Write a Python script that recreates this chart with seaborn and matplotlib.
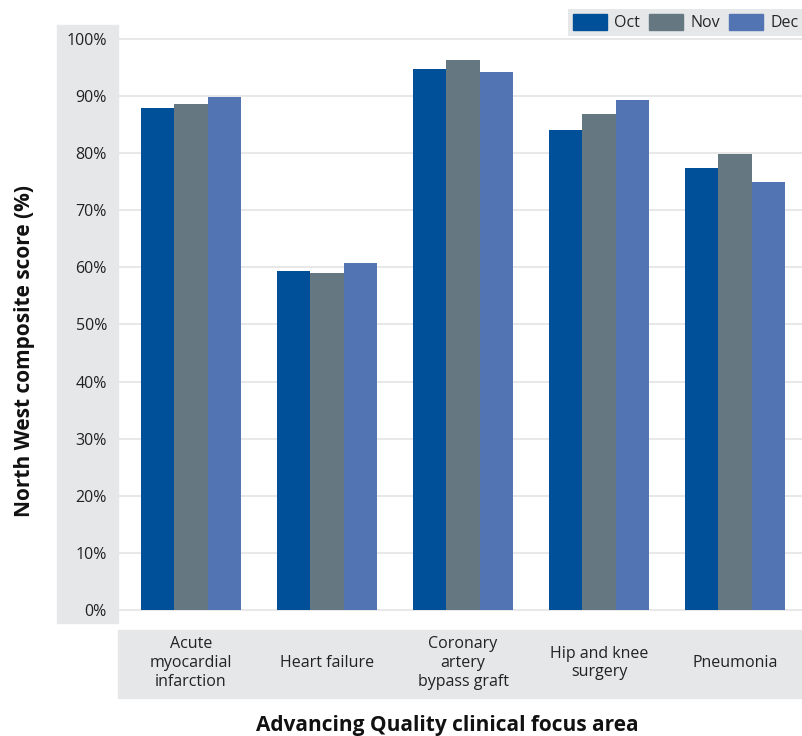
import pandas as pd
import matplotlib
matplotlib.use("Agg")
import matplotlib.pyplot as plt
from matplotlib.patches import Rectangle
import seaborn as sns

# --- DATA ---
areas = ["Acute\nmyocardial\ninfarction", "Heart failure", "Coronary\nartery\nbypass graft",
         "Hip and knee\nsurgery", "Pneumonia"]
months = ["Oct", "Nov", "Dec"]
oct_vals = [87.9, 59.4, 94.7, 84.1, 77.4]
nov_vals = [88.6, 59.0, 96.3, 86.9, 79.9]
dec_vals = [89.8, 60.8, 94.2, 89.3, 75.0]
yticks = [0, 10, 20, 30, 40, 50, 60, 70, 80, 90, 100]

df = pd.DataFrame({
    "area": areas * 3,
    "month": ["Oct"] * 5 + ["Nov"] * 5 + ["Dec"] * 5,
    "score": oct_vals + nov_vals + dec_vals,
})
palette = {"Oct": "#005099", "Nov": "#657882", "Dec": "#5274b3"}
panel = "#e6e7e8"

sns.set_style("white")
plt.rcParams["font.family"] = ["Open Sans", "DejaVu Sans"]

W, H = 803, 736
fig = plt.figure(figsize=(W / 100, H / 100), dpi=100)

def fx(px):
    return px / W

def fy(py):
    return 1 - py / H

# grey label panels (behind the axes)
fig.patches.append(Rectangle((fx(57), fy(623)), fx(118) - fx(57), fy(25) - fy(623),
                             transform=fig.transFigure, color=panel, zorder=-5))
fig.patches.append(Rectangle((fx(118), fy(698)), fx(803) - fx(118), fy(630) - fy(698),
                             transform=fig.transFigure, color=panel, zorder=-5))

ax = fig.add_axes([fx(118), fy(623), fx(803) - fx(118), fy(25) - fy(623)])
ax.set_facecolor("none")

sns.barplot(data=df, x="area", y="score", hue="month", hue_order=months,
            palette=palette, width=0.74, saturation=1, linewidth=0,
            ax=ax, legend=False)

ax.set_ylim(-2.28, 102.45)
ax.set_xlim(-0.537, 4.5)
ax.set_yticks(yticks)
ax.set_yticklabels([f"{v}%" for v in yticks])
ax.yaxis.grid(True, color="#e8e8e8", linewidth=1.5)
ax.set_axisbelow(True)
sns.despine(ax=ax, left=True, bottom=True)
ax.tick_params(axis="y", length=0, pad=8, labelsize=11.5, labelcolor="#222222")
ax.tick_params(axis="x", length=0, pad=28.8, labelsize=11.5, labelcolor="#222222")
for lab in ax.get_xticklabels():
    lab.set_va("center")
    lab.set_linespacing(1.25)

ax.set_xlabel("")
ax.set_ylabel("")
fig.text(fx(25), fy(351), "North West composite score (%)", rotation=90,
         ha="center", va="center", fontsize=15, fontweight="bold", color="#111111")
fig.text(fx(447), fy(725), "Advancing Quality clinical focus area",
         ha="center", va="center", fontsize=15, fontweight="bold", color="#111111")

handles = [Rectangle((0, 0), 1, 1, color=palette[m]) for m in months]
leg = fig.legend(handles, months, loc="upper right", bbox_to_anchor=(1, fy(9)),
                 ncol=3, frameon=True, fancybox=False, facecolor=panel,
                 edgecolor="none", borderaxespad=0, fontsize=11.5,
                 handlelength=2.1, handleheight=1.2, handletextpad=0.45,
                 columnspacing=0.6, borderpad=0.3)
leg.get_frame().set_alpha(1)

fig.savefig("out.png", dpi=100)
